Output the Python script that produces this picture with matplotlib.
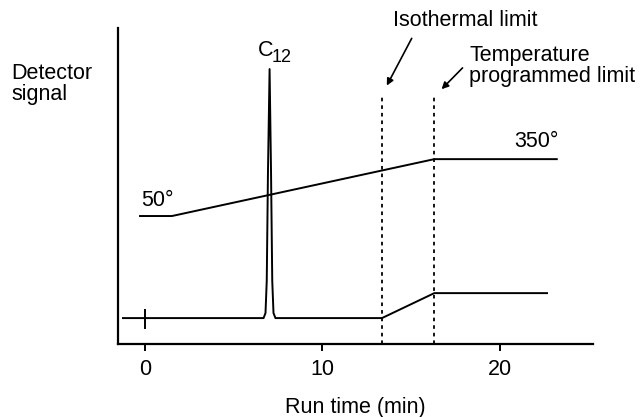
import matplotlib.pyplot as plt

plt.rcParams['font.family'] = ['Liberation Sans', 'DejaVu Sans']

# Chromatogram trace (run time in min, signal in arbitrary units)
trace_x = [-1.24, 6.68, 6.79, 6.86, 6.93, 7.02, 7.10, 7.17, 7.24, 7.35, 13.35, 16.3, 22.65]
trace_y = [8.2, 8.2, 9.8, 20, 55, 87, 55, 20, 9.8, 8.2, 8.2, 16.1, 16.1]

# Oven temperature programme (50 deg -> 350 deg), drawn in signal units
temp_x = [-0.28, 1.52, 16.3, 23.2]
temp_y = [40.5, 40.5, 58.5, 58.5]

# Limits
iso_limit = 13.35
tp_limit = 16.3
limit_top = 78.5

xticks = [0, 10, 20]
fs = 15.5

fig = plt.figure(figsize=(6.44, 4.17), dpi=100)
ax = fig.add_axes([118/644, 1 - 344/417, (593-118)/644, (344-28)/417])
ax.set_xlim(-1.52, 25.24)
ax.set_ylim(0, 100)

ax.plot(trace_x, trace_y, color='black', lw=1.4)
ax.plot(temp_x, temp_y, color='black', lw=1.4)
ax.plot([0, 0], [5.1, 10.8], color='black', lw=1.4)   # injection mark

for xl in [iso_limit, tp_limit]:
    ax.plot([xl, xl], [0, limit_top], color='black', lw=1.3, linestyle=(0, (2, 2.2)))

# C12 label (C plus subscript)
fig.text(258/644, 1 - 51/417, 'C', fontsize=fs, ha='left', va='center')
fig.text(272/644, 1 - 58/417, '12', fontsize=13, ha='left', va='center')

ax.text(-0.2, 45.5, '50°', fontsize=fs, ha='left', va='center')
ax.text(20.8, 64, '350°', fontsize=fs, ha='left', va='center')

fig.text(11/644, 1 - 84/417, 'Detector\nsignal', fontsize=fs, ha='left', va='center', linespacing=1.05)
fig.text(393/644, 1 - 20/417, 'Isothermal limit', fontsize=fs, ha='left', va='center')
fig.text(469/644, 1 - 66/417, 'Temperature\nprogrammed limit', fontsize=fs, ha='left', va='center', linespacing=1.0)

# arrows
ax.annotate('', xy=(13.55, 81), xytext=(15.1, 97.5), annotation_clip=False,
            arrowprops=dict(arrowstyle='-|>', color='black', lw=1.2, mutation_scale=10))
ax.annotate('', xy=(16.6, 80), xytext=(18.0, 88), annotation_clip=False,
            arrowprops=dict(arrowstyle='-|>', color='black', lw=1.2, mutation_scale=10))

for s in ['top', 'right']:
    ax.spines[s].set_visible(False)
for s in ['left', 'bottom']:
    ax.spines[s].set_linewidth(1.6)
ax.set_yticks([])
ax.set_xticks(xticks)
ax.tick_params(axis='x', direction='out', length=5, width=1.4, pad=6, labelsize=fs)
ax.set_xlabel('Run time (min)', fontsize=fs, labelpad=12)

plt.savefig('out.png', dpi=100)
